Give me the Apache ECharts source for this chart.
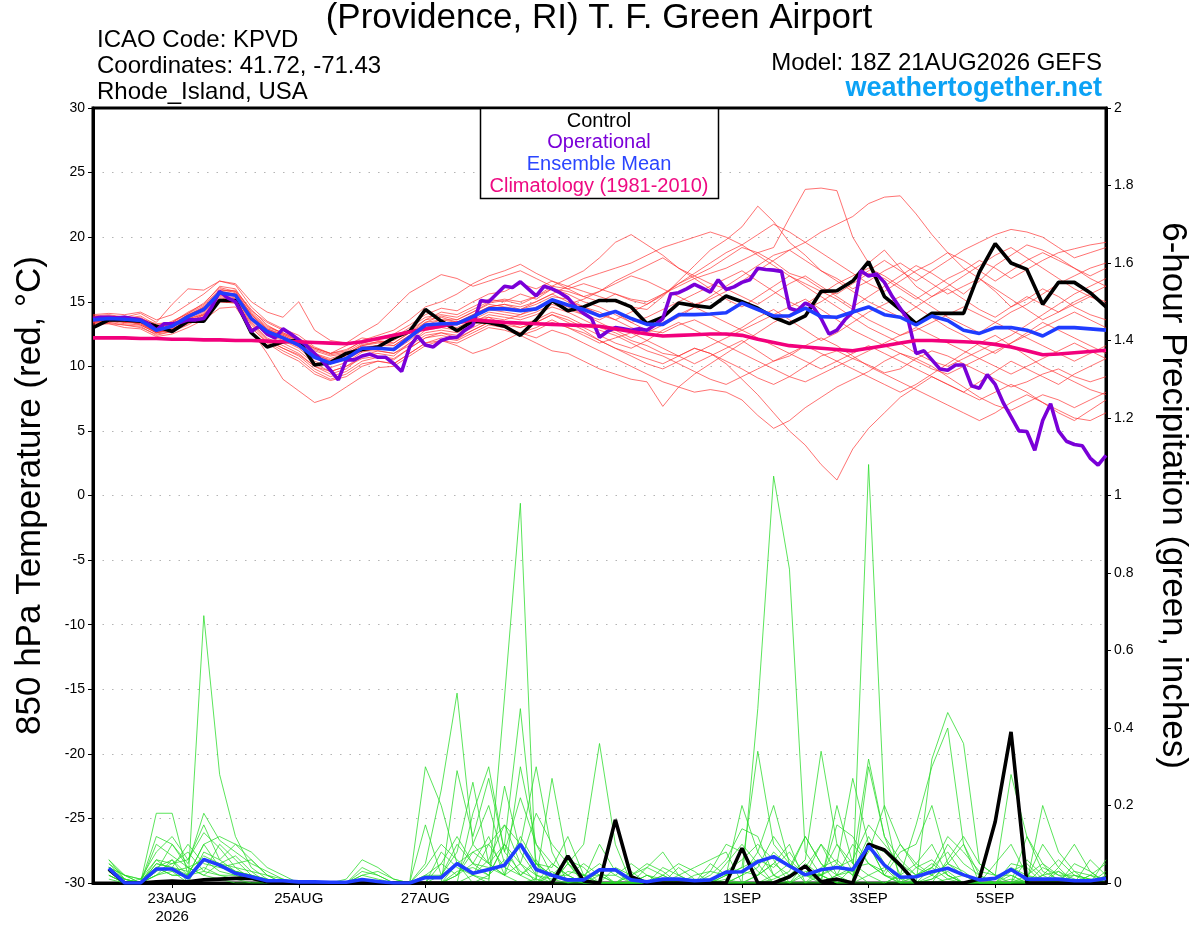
<!DOCTYPE html>
<html>
<head>
<meta charset="utf-8">
<title>KPVD GEFS plume</title>
<script src="https://cdn.jsdelivr.net/npm/echarts@6/dist/echarts.min.js"></script>
<style>
html, body { margin: 0; padding: 0; background: #fff; }
#chart { width: 1200px; height: 927px; }
</style>
</head>
<body>
<div id="chart"></div>
<script>
// hours since 18Z 21AUG2026, 6-hourly steps (ensemble) and 3-hourly (operational)
const hours6 = Array.from({ length: 65 }, (_, i) => i * 6)
const hours3 = Array.from({ length: 129 }, (_, i) => i * 3)

// x axis labels (00Z of each day)
const dayHours = [30, 78, 126, 174, 246, 294, 342]
const dayLabels = ['23AUG\n2026', '25AUG', '27AUG', '29AUG', '1SEP', '3SEP', '5SEP']

// 850 hPa temperature, deg C
const controlT = [13.0,13.6,13.6,13.5,13.1,12.7,13.5,13.5,15.1,15.1, 12.6,11.5,11.9,12.0,10.1,10.3,11.0,11.3,11.5,12.2,
  12.7,14.4,13.5,12.75,13.5,13.4,13.1,12.4,13.6,15.1, 14.3,14.6,15.1,15.1,14.6,13.3,13.8,14.9,14.7,14.55,
  15.45,15.0,14.5,13.8,13.3,13.9,15.8,15.85,16.6,18.1, 15.4,14.4,13.3,14.1,14.1,14.1,17.3,19.5,18.0,17.5,
  14.8,16.5,16.5,15.7,14.6]
const meanT = [13.6,13.7,13.65,13.55,12.8,13.1,13.85,14.4,15.7,15.5, 13.7,12.7,12.2,11.65,10.7,10.25,10.6,11.4,11.4,11.3,
  12.25,13.2,13.3,13.3,13.85,14.45,14.45,14.3,14.45,15.15, 14.75,14.4,13.9,14.25,13.7,13.25,13.25,14.0,14.0,14.05,
  14.15,14.9,14.4,13.9,13.9,14.5,13.85,13.8,14.2,14.6, 14.0,13.8,13.2,13.9,13.55,12.8,12.55,13.0,13.0,12.8,
  12.35,13.0,13.0,12.9,12.8]
const climoT = [12.2,12.2,12.2,12.15,12.15,12.1,12.1,12.05,12.05,12.0, 12.0,11.95,11.9,11.9,11.85,11.8,11.75,11.9,12.15,12.4,
  12.65,12.9,13.1,13.35,13.6,13.5,13.4,13.35,13.3,13.25, 13.2,13.15,13.1,12.9,12.7,12.5,12.35,12.4,12.45,12.5,
  12.5,12.4,12.1,11.85,11.6,11.5,11.4,11.3,11.2,11.4, 11.6,11.8,12.0,12.0,11.95,11.9,11.85,11.7,11.5,11.2,
  10.9,10.95,11.05,11.15,11.25]
// operational run, 3-hourly
const operT = [13.7,13.8,13.8,13.75,13.8,13.7,13.6,13.3, 12.8,13.3,13.3,13.4,13.6,13.6,13.7,14.6,
  15.8,15.3,15.0,13.9,12.7,13.1,12.5,12.2, 12.9,12.5,12.05,11.6,11.0,10.4,9.7,8.95,
  10.5,10.5,10.8,10.95,10.7,10.7,10.2,9.6, 11.5,12.35,11.65,11.5,12.0,12.2,12.25,12.8,
  13.2,15.1,15.0,15.6,16.2,16.1,16.55,16.0, 15.45,16.2,16.0,15.7,15.3,14.6,14.1,13.7,
  12.25,12.7,13.0,12.9,12.8,12.9,12.8,13.2, 13.7,15.6,15.7,16.0,16.35,16.05,15.75,16.7,
  15.95,16.15,16.5,16.7,17.6,17.5,17.45,17.35, 14.5,14.3,14.9,14.6,13.7,12.5,12.8,13.6,
  14.2,17.4,17.0,17.15,16.5,15.4,14.5,13.6, 11.0,11.2,10.5,9.8,9.7,10.1,10.1,8.5,
  8.3,9.35,8.6,7.2,6.1,5.0,4.95,3.5, 5.8,7.1,5.0,4.2,3.95,3.85,2.9,2.35, 3.1]

// ensemble members, 850 hPa temperature
const memberT01 = [13.8,13.9,13.7,13.9,13.2,13.4,14.2,14.8,16.2,16.0, 14.2,13.1,12.6,12.0,11.2,10.8,11.0,11.6,11.9,12.0, 12.8,13.6,14.2,14.0,14.6,15.2,15.0,15.6,15.2,16.0, 15.8,15.4,15.0,15.6,15.1,14.8,15.5,16.4,17.0,17.6, 18.4,19.2,18.8,18.1,17.2,16.8,16.0,15.6,16.4,17.2, 16.8,16.0,15.2,16.0,16.8,17.4,18.2,17.6,16.8,17.5, 18.2,18.8,19.1,19.4,19.6]
const memberT02 = [13.4,13.5,13.3,13.2,12.6,12.8,13.4,14.0,15.2,15.0, 13.3,12.1,11.4,10.8,9.8,9.2,9.6,10.4,10.7,10.5, 11.4,12.2,12.4,12.1,12.8,13.4,13.2,13.0,13.4,14.0, 13.4,12.8,12.0,11.4,11.0,10.6,10.2,10.8,11.4,11.0, 10.4,9.8,9.1,8.6,9.2,10.0,10.8,11.2,10.6,10.1, 9.5,9.8,10.6,11.2,10.8,10.2,9.6,9.0,8.4,8.8, 9.4,9.8,9.2,8.8,9.2]
const memberT03 = [13.7,13.8,13.6,13.4,12.9,13.3,14.0,14.6,15.9,15.8, 14.0,12.9,12.5,11.9,11.0,10.4,10.9,11.7,11.9,11.6, 12.4,13.4,13.9,13.6,14.2,14.9,15.1,14.8,15.4,16.2, 16.0,16.4,16.0,15.6,15.2,15.0,15.6,16.2,16.8,17.2, 17.6,18.2,18.8,19.2,21.5,23.7,23.8,23.6,20.0,18.0, 19.0,17.6,16.2,15.4,16.0,15.2,14.4,13.8,14.6,15.4, 14.8,14.2,15.0,15.6,16.2]
const memberT04 = [13.9,14.0,13.8,14.1,13.4,14.8,16.0,15.9,16.6,16.3, 14.6,13.5,12.9,12.4,11.5,11.0,11.3,11.9,12.2,12.5, 13.2,14.0,14.5,14.3,15.0,15.6,15.8,16.4,16.0,16.6, 16.2,15.8,15.4,15.0,14.6,14.4,15.4,16.6,17.8,19.0, 19.8,20.8,22.4,21.2,19.6,18.6,17.4,16.8,16.0,16.6, 17.4,18.0,17.2,16.4,15.6,16.2,16.8,15.8,14.6,15.2, 16.0,15.4,14.6,14.0,13.6]
const memberT05 = [13.5,13.6,13.4,13.3,12.7,12.9,13.6,14.2,15.4,15.2, 13.5,12.4,11.8,11.2,10.2,9.6,10.0,10.8,11.0,10.8, 11.8,12.8,13.0,12.8,13.4,14.0,13.8,13.6,14.0,14.6, 14.2,13.6,13.0,12.6,12.0,11.6,11.0,10.8,11.4,11.0, 10.2,9.0,7.8,6.4,5.0,3.9,2.4,1.2,3.6,5.2, 6.4,7.6,8.4,9.2,8.6,8.0,8.8,9.6,10.4,9.8, 9.2,8.6,9.4,10.0,10.6]
const memberT06 = [13.2,13.3,13.0,12.9,12.3,12.5,13.0,13.6,14.5,14.6, 12.8,11.0,9.0,8.1,7.2,7.6,8.4,9.2,9.9,10.0, 10.8,11.6,12.0,11.6,11.0,11.4,12.0,12.6,12.2,12.8, 12.4,11.8,11.2,10.6,10.0,9.4,8.8,8.4,8.0,8.2, 8.0,7.4,6.2,5.2,5.8,6.8,7.6,8.4,9.0,9.6, 10.4,11.0,10.6,10.0,9.2,8.4,7.6,7.0,6.6,7.2, 7.8,7.4,6.8,7.4,8.0]
const memberT07 = [14.0,14.1,14.0,14.2,13.6,14.0,14.8,15.6,16.6,16.4, 15.0,14.2,13.8,15.0,12.8,12.0,11.8,12.6,13.3,14.5, 15.7,16.4,17.1,16.8,16.2,16.6,17.0,17.4,16.8,16.2, 16.8,17.4,18.4,19.6,20.2,19.4,18.6,17.6,17.0,16.4, 16.0,15.4,14.8,15.6,16.4,17.0,16.2,15.4,14.6,15.4, 16.2,17.0,17.8,17.2,16.4,15.6,16.6,17.8,18.6,19.4, 19.0,18.4,17.6,16.8,16.2]
const memberT08 = [13.8,13.7,13.9,13.6,13.1,13.2,14.0,14.5,15.8,15.9, 14.4,13.2,12.5,12.0,11.4,11.0,11.2,12.0,12.4,12.8, 13.6,14.6,15.0,15.6,16.4,17.0,17.4,17.9,17.2,16.6, 16.0,15.4,15.8,16.4,17.0,16.6,16.0,15.4,14.8,15.2, 15.8,16.6,17.4,18.2,19.0,19.6,20.4,21.0,21.6,22.6, 23.1,23.2,21.8,20.2,18.8,17.6,16.8,16.0,15.2,14.4, 13.6,14.2,14.8,15.4,15.0]
const memberT09 = [13.6,13.8,13.5,13.4,12.7,13.0,13.9,14.3,15.6,15.4, 13.8,12.8,12.4,11.8,10.9,10.5,10.8,11.5,11.6,11.2, 12.0,13.0,13.2,13.0,13.6,14.2,14.0,13.8,14.2,14.8, 14.4,14.0,13.6,14.2,13.4,12.8,12.6,13.2,13.6,13.0, 12.4,13.0,13.8,14.4,13.6,12.8,12.0,12.6,13.4,14.2, 14.8,15.4,14.6,13.8,13.0,12.4,11.6,11.0,11.8,12.6, 13.4,12.8,12.2,11.6,11.0]
const memberT10 = [13.3,13.4,13.2,13.0,12.5,12.7,13.3,13.8,15.0,14.9, 13.0,11.9,11.2,10.6,9.6,9.0,9.4,10.2,10.4,10.2, 11.0,11.8,12.2,12.0,12.6,13.2,13.0,12.6,13.0,13.6, 13.0,12.4,11.8,12.2,12.6,12.0,11.4,10.8,10.2,10.8, 11.4,12.0,11.2,10.4,10.8,11.6,12.2,11.6,10.8,10.0, 9.4,8.8,8.2,7.6,7.0,6.4,5.8,6.4,7.2,7.8, 7.2,6.6,6.0,5.8,6.4]
const memberT11 = [13.9,13.8,13.7,13.8,13.0,13.5,14.1,14.9,16.1,15.8, 14.3,13.4,12.8,12.2,11.4,11.0,11.6,12.2,12.0,11.8, 12.6,13.6,13.8,13.4,14.0,14.6,14.8,14.4,14.8,15.4, 15.2,14.6,14.2,13.6,13.0,12.6,13.2,13.8,14.6,15.4, 16.2,17.0,17.8,18.6,19.0,18.2,17.4,16.6,15.8,15.0, 14.4,13.8,14.6,15.4,16.2,17.0,17.8,18.6,19.2,18.4, 17.6,16.8,16.0,15.4,14.8]
const memberT12 = [13.5,13.4,13.6,13.2,12.6,12.8,13.5,14.1,15.3,15.1, 13.4,12.2,11.6,11.0,10.0,9.4,9.8,10.8,11.2,11.0, 11.6,12.4,12.6,12.4,13.0,13.6,13.4,13.2,13.6,14.2, 13.8,13.2,12.8,12.4,11.8,11.2,10.8,10.2,9.6,9.0, 8.6,9.2,9.8,10.4,11.0,11.6,11.0,10.4,9.8,9.2, 8.6,8.0,8.6,9.4,10.2,11.0,11.8,12.4,11.6,10.8, 10.0,9.4,8.8,8.2,7.8]
const memberT13 = [13.6,13.7,13.4,13.5,12.9,13.0,13.7,14.3,15.5,15.3, 13.6,12.5,12.0,11.4,10.4,9.9,10.3,11.1,11.4,11.3, 12.2,13.0,13.2,13.4,13.6,13.8,13.2,12.4,11.8,11.2, 11.0,10.4,9.8,9.4,9.0,8.8,6.9,8.4,9.4,10.2, 11.0,11.8,12.6,13.4,14.0,14.8,15.6,16.4,17.0,17.6, 17.0,16.2,15.4,14.6,13.8,13.2,12.6,13.4,14.2,14.8, 15.6,16.4,17.0,17.6,18.0]
const memberT14 = [13.7,13.6,13.8,13.6,12.8,13.2,13.8,14.6,15.8,15.6, 13.9,12.8,12.3,11.6,10.6,10.2,10.6,11.4,11.6,11.6, 12.4,13.2,13.6,13.6,14.2,14.8,14.6,14.4,15.0,15.6, 15.0,14.6,14.0,13.6,14.2,14.8,15.6,16.4,17.2,18.0, 18.8,19.4,18.6,17.8,17.0,16.2,15.4,14.6,13.8,13.0, 12.4,11.8,11.0,10.4,10.0,10.6,11.2,11.8,12.4,13.2, 14.0,14.8,15.6,16.2,16.8]
const memberT15 = [13.4,13.6,13.5,13.3,12.6,13.0,13.7,14.0,15.1,15.2, 13.6,12.6,12.1,11.5,10.8,10.4,10.6,11.2,11.2,11.0, 11.8,12.6,12.8,12.6,13.2,13.8,13.6,14.0,14.6,15.0, 14.8,15.2,15.8,16.6,17.2,17.8,18.4,17.6,16.8,16.0, 15.2,14.6,15.4,16.2,17.0,16.4,15.8,15.2,14.4,13.6, 13.0,12.4,12.8,13.4,14.0,14.6,14.0,13.4,12.8,12.2, 11.6,11.0,10.4,11.0,11.6]
const memberT16 = [13.6,13.5,13.7,13.4,12.9,13.1,13.8,14.4,15.6,15.5, 13.8,12.7,12.2,11.6,10.8,10.2,10.5,11.2,11.4,11.4, 12.2,13.0,13.4,13.2,13.8,14.4,14.2,14.0,14.4,15.0, 14.6,14.0,13.4,12.8,12.2,12.8,13.4,14.0,14.6,14.0, 13.4,12.8,12.2,11.6,11.0,10.4,9.8,10.4,11.0,11.6, 11.0,10.4,9.8,9.2,8.6,8.0,7.4,8.0,8.6,8.0, 7.2,6.4,5.8,6.6,7.4]
const memberT17 = [13.8,13.9,13.8,13.7,13.3,13.4,14.1,14.7,16.0,15.7, 14.1,13.0,12.6,12.1,11.3,10.9,11.1,11.8,12.1,12.2, 13.0,13.8,14.0,13.8,14.4,15.0,15.2,15.0,15.4,16.0, 15.6,15.0,14.6,14.0,13.4,13.8,14.4,15.0,15.6,16.2, 16.8,17.4,16.6,15.8,15.0,14.4,15.0,15.8,16.6,17.4, 18.2,17.4,16.6,17.4,18.2,19.0,19.6,20.2,20.6,20.4, 20.0,19.2,18.4,18.8,19.2]
const memberT18 = [13.5,13.6,13.4,13.4,12.6,12.9,13.4,14.0,15.2,15.0, 13.2,12.0,11.4,10.9,10.0,9.6,10.0,10.6,10.8,10.6, 11.4,12.2,12.6,12.2,12.8,13.4,13.4,13.0,13.4,14.0, 13.6,13.0,12.4,11.8,11.4,12.0,12.8,13.4,12.8,12.2, 11.6,11.0,10.4,9.8,9.2,8.8,9.4,10.0,10.6,11.2, 11.8,12.4,13.0,12.4,11.8,11.2,10.6,10.0,9.4,10.0, 10.6,11.2,11.8,11.2,10.6]
const memberT19 = [13.7,13.8,13.6,13.6,13.0,13.3,13.9,14.5,15.7,15.6, 14.0,12.9,12.4,11.8,11.0,10.6,11.0,11.6,11.8,11.8, 12.6,13.4,13.6,13.4,14.0,14.6,14.8,14.6,15.0,15.6, 16.2,16.8,17.2,17.6,18.0,18.6,19.2,19.6,20.0,20.4, 20.0,19.4,20.2,21.0,20.4,19.6,18.8,18.0,17.2,16.4, 15.8,16.6,17.4,18.0,18.8,18.2,17.4,16.6,17.4,18.2, 18.8,18.2,17.6,17.0,17.6]
const memberT20 = [13.4,13.3,13.2,13.1,12.4,12.7,13.2,13.9,15.0,14.9, 13.0,11.8,11.0,10.4,9.4,8.9,9.2,10.0,10.4,10.2, 11.0,11.8,12.0,11.8,12.4,13.0,12.8,12.4,12.8,13.4, 13.0,12.6,12.0,11.4,10.8,10.2,9.8,10.4,11.0,11.6, 12.2,12.8,13.4,14.0,14.6,15.2,14.4,13.6,12.8,12.2, 11.6,11.0,10.4,9.8,9.4,10.0,10.6,11.2,11.8,12.4, 13.0,13.6,14.2,13.6,13.0]

// 6-hour precipitation, inches (first step has no accumulation)
const controlP = [null,0.036,0,0,0.003,0.005,0.003,0.008, 0.01,0.012,0.012,0.003,0,0,0,0, 0,0,0,0,0,0,0,0,
  0,0,0,0,0,0,0.07,0.005, 0,0.163,0.016,0,0,0,0,0, 0,0.09,0,0,0.016,0.044,0.003,0.01,
  0,0.1,0.085,0.046,0,0,0,0, 0.01,0.158,0.39,0,0,0,0,0, 0]
const meanP = [null,0.038,0,0,0.036,0.036,0.013,0.061, 0.046,0.025,0.016,0.006,0.006,0.003,0.003,0.002,
  0.002,0.009,0.004,0,0,0.014,0.014,0.05, 0.025,0.035,0.046,0.1,0.035,0.02,0.008,0.008,
  0.034,0.034,0.008,0.003,0.01,0.01,0.006,0.008, 0.028,0.029,0.055,0.068,0.044,0.021,0.034,0.04,
  0.034,0.095,0.046,0.015,0.016,0.029,0.038,0.021, 0.008,0.012,0.035,0.01,0.01,0.01,0.006,0.006, 0.012]

// ensemble members, precipitation from hour 6 to hour 384
const memberP01 = [0.05,0.02,0,0.18,0.18,0.02,0.06,0.03,0.02,0.01,0,0, 0,0,0,0,0,0,0,0, 0,0,0.05,0.02,0,0.48,0.98,0,0.02,0.01,0,0, 0,0,0,0.02,0,0,0,0, 0,0,0.01,0.03,0.12,0.05,0,0,0.02,0.04,0,0,0,0.01,0.02,0, 0,0,0.02,0.05,0.02,0,0,0]
const memberP02 = [0.03,0.01,0,0.04,0.06,0,0.69,0.28,0.12,0.04,0.01,0, 0,0,0,0,0,0,0,0, 0.3,0.2,0.05,0,0.02,0.06,0.02,0,0.03,0,0,0, 0,0.02,0.05,0.03,0,0,0,0.01, 0,0,0,0.02,0.06,0.34,0.1,0.03,0,0,0.02,0,0.01,0.03,0,0, 0,0,0,0,0.03,0.01,0,0]
const memberP03 = [0.04,0,0.01,0.08,0.12,0.06,0.13,0.09,0.04,0.01,0,0, 0,0,0,0,0,0,0,0, 0,0.02,0.1,0.05,0.02,0.1,0.45,0.05,0,0,0.01,0.1, 0.03,0,0,0,0.02,0.04,0.06,0.08, 0,0.45,1.05,0.81,0.08,0.02,0,0,0,0,0,0.04,0.06,0.02,0,0, 0,0.01,0,0,0,0.02,0.01,0]
const memberP04 = [0.02,0,0,0.05,0.04,0.02,0.1,0.12,0.1,0.06,0.02,0, 0,0,0,0,0.04,0.02,0,0, 0.05,0.24,0.49,0.1,0.05,0.02,0,0.01,0.27,0.05,0,0.02, 0,0,0.02,0.01,0,0,0.03,0.1, 0.08,0.03,0,0,0.05,0.02,0,0,1.08,0.19,0,0.02,0.04,0.01,0,0, 0,0.03,0.05,0.01,0,0,0.02,0.05]
const memberP05 = [0.06,0.01,0,0.12,0.1,0.05,0.18,0.11,0.08,0.05,0.03,0.01, 0,0,0,0.01,0.06,0.04,0.01,0, 0,0,0.29,0.12,0.27,0.08,0.03,0.01,0,0.05,0.1,0.36, 0.1,0,0,0,0,0,0,0.02, 0.04,0.34,0.1,0.05,0.02,0.1,0.05,0.27,0.1,0.02,0,0,0.01,0.05,0.02,0, 0,0,0,0.2,0.08,0.03,0,0]
const memberP06 = [0.04,0.02,0.01,0.06,0.03,0,0.08,0.06,0.1,0.08,0.04,0.02, 0,0,0,0,0.02,0.01,0,0, 0,0,0.02,0.08,0.1,0.15,0.05,0,0.05,0.02,0,0, 0,0,0,0,0,0,0.02,0.06, 0.14,0.12,0.02,0,0,0.04,0.06,0.02,0.1,0.08,0.04,0,0.32,0.44,0.36,0.05, 0.02,0,0,0,0.01,0.03,0.02,0]
const memberP07 = [0.03,0,0,0.02,0.04,0.1,0.05,0.04,0.05,0.06,0.02,0, 0,0,0,0,0.02,0.03,0.01,0, 0.15,0.02,0.08,0.26,0.05,0.1,0.02,0.06,0,0.05,0.01,0, 0,0.03,0,0,0.01,0,0,0, 0.02,0.08,0.2,0.05,0,0,0.2,0.05,0.32,0.12,0.02,0.15,0.3,0.4,0.1,0, 0,0,0.12,0.05,0,0,0.06,0.02]
const memberP08 = [0.04,0.02,0,0.03,0.05,0.08,0.03,0.1,0.06,0.02,0.01,0, 0,0,0,0,0,0,0,0, 0,0,0,0.18,0.3,0.08,0.22,0.1,0.05,0.02,0,0, 0,0,0,0.02,0.05,0.03,0,0.05, 0.1,0.05,0,0,0.03,0.02,0,0.04,0.1,0.02,0,0,0,0.06,0.12,0.05, 0.02,0.28,0.12,0.03,0.01,0,0,0.03]
const memberP09 = [0.02,0,0,0.1,0.07,0.04,0.02,0.01,0,0,0,0, 0,0,0,0,0,0,0,0, 0.02,0.05,0.02,0.1,0.2,0.05,0.1,0.3,0.08,0,0.02,0.05, 0.02,0,0,0.04,0.02,0,0.01,0, 0,0.02,0.05,0.1,0,0,0.02,0.1,0.05,0.02,0.08,0.1,0.2,0.05,0.03,0, 0.05,0.1,0.02,0,0.04,0.1,0.03,0]
const memberP10 = [0.05,0.01,0,0.06,0.05,0.06,0.15,0.06,0.03,0.02,0,0, 0,0,0,0,0,0,0,0, 0,0.05,0.12,0.05,0.04,0.02,0.12,0.05,0.04,0.12,0.02,0, 0,0,0.04,0.08,0.02,0,0,0.03, 0.06,0.1,0.06,0,0.02,0.02,0.04,0.06,0.15,0.1,0.05,0.02,0.04,0.08,0.02,0, 0,0.05,0.04,0,0,0,0,0.06]
const memberP11 = [0.01,0,0,0.02,0.03,0.04,0.06,0.05,0.07,0.03,0,0, 0,0,0,0,0,0,0,0, 0.04,0.1,0.06,0.02,0.01,0.25,0.08,0.02,0.01,0,0,0, 0,0,0,0,0,0,0,0, 0,0.02,0.08,0.04,0.12,0.05,0.02,0,0.3,0.12,0.06,0.02,0.05,0.02,0,0, 0,0,0,0.02,0.06,0.02,0,0]
const memberP12 = [0.03,0.01,0,0.04,0.02,0.02,0.1,0.04,0.03,0.02,0.01,0, 0,0,0,0,0,0,0,0, 0,0,0.02,0.05,0.12,0.02,0.05,0.18,0.1,0.05,0.02,0, 0.04,0.02,0,0,0,0.02,0.03,0.02, 0.04,0.06,0.04,0.08,0.02,0.01,0.15,0.12,0.05,0.02,0.01,0,0.02,0.1,0.05,0.02, 0,0,0.01,0.1,0.04,0,0.02,0.01]
const memberP13 = [0.04,0,0,0.05,0.04,0.03,0.07,0.05,0.03,0.02,0,0, 0,0,0,0,0,0,0,0, 0,0,0,0.02,0.06,0.15,0.1,0.05,0.02,0.02,0.05,0.02, 0,0,0.02,0,0,0,0.05,0.02, 0.2,0.08,0.02,0,0,0.02,0.1,0.05,0.02,0,0.02,0.05,0.1,0.02,0,0, 0,0,0.06,0.02,0,0.05,0.03,0]
const memberP14 = [0.06,0.02,0.01,0.04,0.02,0.02,0.04,0.02,0.02,0.01,0,0, 0,0,0,0,0,0,0,0, 0.02,0.02,0.05,0.08,0.05,0.02,0.3,0.1,0.02,0.06,0.04,0, 0,0.02,0.04,0.02,0,0,0,0.02, 0.03,0.02,0.05,0.02,0.04,0.1,0.02,0.03,0.12,0.05,0,0,0.04,0.12,0.08,0.03, 0.02,0.02,0,0.04,0.02,0.02,0.01,0]
const memberP15 = [0.02,0,0,0.03,0.1,0.04,0.02,0.05,0.04,0.03,0.02,0.01, 0,0,0,0,0,0,0,0, 0,0,0.03,0.04,0.02,0.1,0.05,0.02,0,0.03,0.02,0.02, 0.02,0.05,0.02,0,0,0,0,0, 0.02,0.04,0.12,0.06,0.02,0,0.02,0.04,0.05,0.03,0.1,0.05,0.02,0,0,0.01, 0,0.04,0.02,0.01,0,0.01,0,0]
const memberP16 = [0.04,0.01,0,0.02,0.06,0.02,0.03,0.02,0.01,0,0,0, 0,0,0,0,0.03,0.02,0,0, 0,0.08,0.04,0.02,0.1,0.04,0.02,0.05,0.02,0.01,0,0.03, 0,0,0,0,0.04,0.01,0,0, 0,0,0.02,0.05,0.02,0.02,0.05,0.02,0.08,0.2,0.1,0.04,0.02,0.05,0.1,0.02, 0,0.02,0,0.02,0.03,0,0,0.02]

const membersT = [memberT01, memberT02, memberT03, memberT04, memberT05, memberT06, memberT07, memberT08, memberT09, memberT10,
  memberT11, memberT12, memberT13, memberT14, memberT15, memberT16, memberT17, memberT18, memberT19, memberT20]
const membersP = [memberP01, memberP02, memberP03, memberP04, memberP05, memberP06, memberP07, memberP08,
  memberP09, memberP10, memberP11, memberP12, memberP13, memberP14, memberP15, memberP16]

const FONT = 'Liberation Sans, Arial, Helvetica, sans-serif'

function pairs(hours, vals) {
  return vals.map((v, i) => [hours[i], v])
}

function line(data, color, width, yAxisIndex, z) {
  return {
    type: 'line',
    data: data,
    yAxisIndex: yAxisIndex,
    showSymbol: false,
    symbol: 'none',
    silent: true,
    z: z,
    lineStyle: { color: color, width: width },
    emphasis: { disabled: true }
  }
}

let series = []
membersT.forEach(m => series.push(line(pairs(hours6, m), 'rgba(255,45,45,0.75)', 0.9, 0, 2)))
membersP.forEach(m => series.push(line(pairs(hours6, [null].concat(m)), 'rgba(40,220,40,0.85)', 0.9, 1, 2)))
series.push(line(pairs(hours6, controlP), '#000000', 3.6, 1, 3))
series.push(line(pairs(hours6, meanP), '#1f3cff', 3.6, 1, 4))
series.push(line(pairs(hours6, controlT), '#000000', 3.6, 0, 5))
series.push(line(pairs(hours3, operT), '#7a00d8', 3.6, 0, 6))
series.push(line(pairs(hours6, climoT), '#f2007c', 3.6, 0, 7))
series.push(line(pairs(hours6, meanT), '#1f3cff', 3.6, 0, 8))

const chart = echarts.init(document.getElementById('chart'))

const option = {
  animation: false,
  backgroundColor: '#ffffff',
  textStyle: { fontFamily: FONT },
  grid: {
    left: 93, right: 94, top: 108, bottom: 44,
    show: true, borderColor: '#000', borderWidth: 3
  },
  xAxis: {
    type: 'value',
    min: 0,
    max: 384,
    axisLine: { show: true, onZero: false, lineStyle: { color: '#000', width: 3 } },
    axisTick: { show: true, customValues: dayHours, length: 5, lineStyle: { color: '#000', width: 1 } },
    axisLabel: {
      customValues: dayHours,
      color: '#000',
      fontSize: 15,
      fontFamily: FONT,
      lineHeight: 18,
      margin: 7,
      formatter: v => dayLabels[dayHours.indexOf(v)] || ''
    },
    splitLine: { show: false }
  },
  yAxis: [{
    type: 'value',
    min: -30,
    max: 30,
    interval: 5,
    position: 'left',
    name: '850 hPa Temperature (red, °C)',
    nameLocation: 'middle',
    nameGap: 45,
    nameTextStyle: { fontSize: 35, color: '#000', fontFamily: FONT },
    axisLine: { show: true, lineStyle: { color: '#000', width: 3 } },
    axisTick: { show: true, length: 5, lineStyle: { color: '#000' } },
    axisLabel: { color: '#000', fontSize: 14, margin: 8, fontFamily: FONT },
    splitLine: { show: true, showMinLine: false, showMaxLine: false, lineStyle: { color: '#b4b4b4', width: 1.2, type: [1.5, 8] } }
  }, {
    type: 'value',
    min: 0,
    max: 2,
    interval: 0.2,
    position: 'right',
    name: '6-hour Precipitation (green, inches)',
    nameLocation: 'middle',
    nameRotate: -90,
    nameGap: 49,
    nameTextStyle: { fontSize: 35, color: '#000', fontFamily: FONT },
    axisLine: { show: true, lineStyle: { color: '#000', width: 3 } },
    axisTick: { show: true, length: 5, lineStyle: { color: '#000' } },
    axisLabel: { color: '#000', fontSize: 14, margin: 8, fontFamily: FONT },
    splitLine: { show: false }
  }],
  graphic: [
    { type: 'text', z: 100, style: { text: '(Providence, RI) T. F. Green Airport', x: 599, y: 18, textAlign: 'center', textVerticalAlign: 'middle', font: '35px ' + FONT, fill: '#000' } },
    { type: 'text', z: 100, style: { text: 'ICAO Code: KPVD', x: 97, y: 40, textVerticalAlign: 'middle', font: '24px ' + FONT, fill: '#000' } },
    { type: 'text', z: 100, style: { text: 'Coordinates: 41.72, -71.43', x: 97, y: 66, textVerticalAlign: 'middle', font: '24px ' + FONT, fill: '#000' } },
    { type: 'text', z: 100, style: { text: 'Rhode_Island, USA', x: 97, y: 92, textVerticalAlign: 'middle', font: '24px ' + FONT, fill: '#000' } },
    { type: 'text', z: 100, style: { text: 'Model: 18Z 21AUG2026 GEFS', x: 1102, y: 63, textAlign: 'right', textVerticalAlign: 'middle', font: '24px ' + FONT, fill: '#000' } },
    { type: 'text', z: 100, style: { text: 'weathertogether.net', x: 1102, y: 89, textAlign: 'right', textVerticalAlign: 'middle', font: 'bold 27px ' + FONT, fill: '#0ca2f5' } },
    // legend box
    { type: 'rect', z: 100, shape: { x: 480.5, y: 108.5, width: 238, height: 90 }, style: { fill: '#fff', stroke: '#000', lineWidth: 1.5 } },
    { type: 'text', z: 101, style: { text: 'Control', x: 599, y: 121, textAlign: 'center', textVerticalAlign: 'middle', font: '20px ' + FONT, fill: '#000' } },
    { type: 'text', z: 101, style: { text: 'Operational', x: 599, y: 142, textAlign: 'center', textVerticalAlign: 'middle', font: '20px ' + FONT, fill: '#7a00d8' } },
    { type: 'text', z: 101, style: { text: 'Ensemble Mean', x: 599, y: 164, textAlign: 'center', textVerticalAlign: 'middle', font: '20px ' + FONT, fill: '#2a45ff' } },
    { type: 'text', z: 101, style: { text: 'Climatology (1981-2010)', x: 599, y: 186, textAlign: 'center', textVerticalAlign: 'middle', font: '20px ' + FONT, fill: '#ee0a82' } }
  ],
  series: series
}

chart.setOption(option)
</script>
</body>
</html>
